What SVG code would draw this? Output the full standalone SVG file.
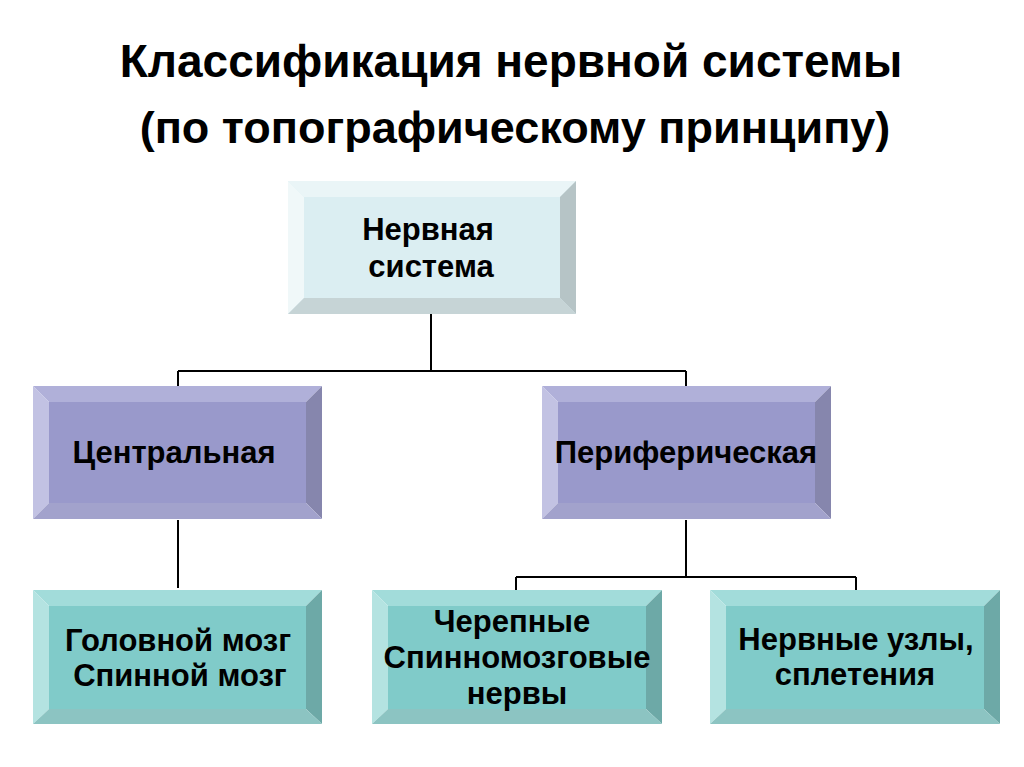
<svg xmlns="http://www.w3.org/2000/svg" width="1024" height="767" viewBox="0 0 1024 767">
<style>
.t{font-family:"Liberation Sans",Arial,sans-serif;font-weight:bold;fill:#000;text-anchor:middle}
.title{font-size:46px}
.lbl{font-size:31px}
.con{stroke:#000;stroke-width:2;fill:none}
</style>
<rect width="1024" height="767" fill="#fff"/>
<text class="t title" x="511" y="77">Классификация нервной системы</text>
<text class="t title" x="515" y="143" style="font-size:45px">(по топографическому принципу)</text>
<g id="connectors">
<path class="con" d="M431 314V371M178 371H686M178 371V386M686 371V386"/>
<path class="con" d="M178 520V588"/>
<path class="con" d="M686 520V577M516 577H856M516 577V590M856 577V590"/>
</g>
<g id="n-root">
<rect x="288" y="181" width="288" height="133" fill="#dbeef2"/>
<polygon points="288,181 576,181 560,197 304,197" fill="#eaf5f7"/>
<polygon points="288,181 304,197 304,298 288,314" fill="#f0f8f9"/>
<polygon points="576,181 576,314 560,298 560,197" fill="#b6c4c6"/>
<polygon points="288,314 576,314 560,298 304,298" fill="#c6d4d6"/>
<rect x="304" y="197" width="256" height="101" fill="#dbeef2"/>
<text class="t lbl" x="428" y="240">Нервная</text>
<text class="t lbl" x="431" y="277">система</text>
</g>
<g id="n-central">
<polygon points="33,386 322,386 306,402 49,402" fill="#b0b0d9"/>
<polygon points="33,386 49,402 49,503 33,519" fill="#c2c2e3"/>
<polygon points="322,386 322,519 306,503 306,402" fill="#8686ad"/>
<polygon points="33,519 322,519 306,503 49,503" fill="#a2a2cc"/>
<rect x="49" y="402" width="257" height="101" fill="#9999cb"/>
<text class="t lbl" x="174" y="463">Центральная</text>
</g>
<g id="n-periph">
<polygon points="542,386 831,386 815,402 558,402" fill="#b0b0d9"/>
<polygon points="542,386 558,402 558,503 542,519" fill="#c2c2e3"/>
<polygon points="831,386 831,519 815,503 815,402" fill="#8686ad"/>
<polygon points="542,519 831,519 815,503 558,503" fill="#a2a2cc"/>
<rect x="558" y="402" width="257" height="101" fill="#9999cb"/>
<text class="t lbl" x="686" y="463">Периферическая</text>
</g>
<g id="n-brain">
<polygon points="33,590 322,590 306,606 49,606" fill="#a2dcda"/>
<polygon points="33,590 49,606 49,709 33,724" fill="#b4e3e1"/>
<polygon points="322,590 322,724 306,709 306,606" fill="#6da9a7"/>
<polygon points="33,724 322,724 306,709 49,709" fill="#8cc4c2"/>
<rect x="49" y="606" width="257" height="103" fill="#80cbc9"/>
<text class="t lbl" x="178" y="651">Головной мозг</text>
<text class="t lbl" x="180" y="686">Спинной мозг</text>
</g>
<g id="n-nerves">
<polygon points="372,590 662,590 646,606 388,606" fill="#a2dcda"/>
<polygon points="372,590 388,606 388,709 372,724" fill="#b4e3e1"/>
<polygon points="662,590 662,724 646,709 646,606" fill="#6da9a7"/>
<polygon points="372,724 662,724 646,709 388,709" fill="#8cc4c2"/>
<rect x="388" y="606" width="258" height="103" fill="#80cbc9"/>
<text class="t lbl" x="512" y="632">Черепные</text>
<text class="t lbl" x="517" y="668">Спинномозговые</text>
<text class="t lbl" x="517" y="704">нервы</text>
</g>
<g id="n-ganglia">
<polygon points="710,590 1000,590 984,606 726,606" fill="#a2dcda"/>
<polygon points="710,590 726,606 726,709 710,724" fill="#b4e3e1"/>
<polygon points="1000,590 1000,724 984,709 984,606" fill="#6da9a7"/>
<polygon points="710,724 1000,724 984,709 726,709" fill="#8cc4c2"/>
<rect x="726" y="606" width="258" height="103" fill="#80cbc9"/>
<text class="t lbl" x="856" y="650">Нервные узлы,</text>
<text class="t lbl" x="855" y="685">сплетения</text>
</g>
</svg>
